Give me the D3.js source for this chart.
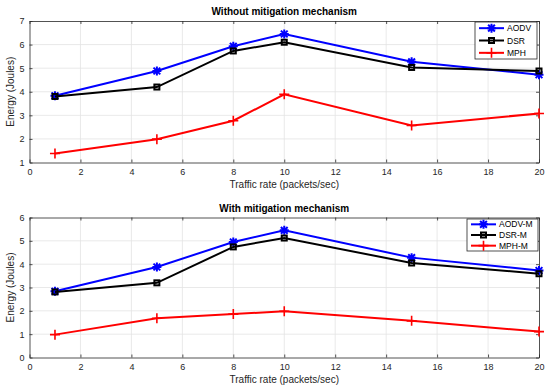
<!DOCTYPE html>
<html>
<head>
<meta charset="utf-8">
<script src="https://cdn.jsdelivr.net/npm/d3@7"></script>
<style>
  body { margin: 0; background: #fff; }
  svg { font-family: "Liberation Sans", Arial, sans-serif; }
</style>
</head>
<body>
<div id="chart"></div>
<script>
// traffic rate (packets/sec)
const rates = [1, 5, 8, 10, 15, 20]

// without mitigation
const aodv = [3.83, 4.88, 5.93, 6.45, 5.27, 4.72]
const dsr  = [3.80, 4.20, 5.73, 6.10, 5.03, 4.88]
const mph  = [1.38, 1.99, 2.77, 3.89, 2.57, 3.08]

// with mitigation
const aodvM = [2.84, 3.88, 4.95, 5.45, 4.28, 3.73]
const dsrM  = [2.81, 3.20, 4.74, 5.12, 4.05, 3.59]
const mphM  = [0.98, 1.68, 1.86, 1.98, 1.57, 1.11]

const xTicks = [0, 2, 4, 6, 8, 10, 12, 14, 16, 18, 20]

const W = 550, H = 391

const svg = d3.select("#chart").append("svg")
    .attr("width", W)
    .attr("height", H)

const panels = [
    {
        title: "Without mitigation mechanism",
        top: 21, bottom: 162.5,
        yDomain: [1, 7],
        series: [
            {name: "AODV", data: aodv, color: "#0000ff", marker: "star"},
            {name: "DSR", data: dsr, color: "#000000", marker: "square"},
            {name: "MPH", data: mph, color: "#ff0000", marker: "plus"}
        ],
        legend: {x: 475, y: 22, w: 62, h: 37}
    },
    {
        title: "With mitigation mechanism",
        top: 217.5, bottom: 357.5,
        yDomain: [0, 6],
        series: [
            {name: "AODV-M", data: aodvM, color: "#0000ff", marker: "star"},
            {name: "DSR-M", data: dsrM, color: "#000000", marker: "square"},
            {name: "MPH-M", data: mphM, color: "#ff0000", marker: "plus"}
        ],
        legend: {x: 467, y: 219, w: 71, h: 32}
    }
]

const left = 29.5, right = 539

function drawMarker(g, type, cx, cy, color) {
    if (type == "square") {
        g.append("rect")
            .attr("x", cx - 2.5).attr("y", cy - 2.5)
            .attr("width", 5).attr("height", 5)
            .attr("fill", "none").attr("stroke", color).attr("stroke-width", 2)
    } else if (type == "plus") {
        g.append("path")
            .attr("d", `M${cx-5},${cy}H${cx+5}M${cx},${cy-5}V${cy+5}`)
            .attr("stroke", color).attr("stroke-width", 1.6)
    } else {
        const r = 4.5
        let d = `M${cx-r},${cy}H${cx+r}M${cx},${cy-r}V${cy+r}`
        const q = r * 0.75
        d += `M${cx-q},${cy-q}L${cx+q},${cy+q}M${cx-q},${cy+q}L${cx+q},${cy-q}`
        g.append("path").attr("d", d)
            .attr("stroke", color).attr("stroke-width", 2)
    }
}

panels.forEach(p => {
    const x = d3.scaleLinear().domain([0, 20]).range([left, right])
    const y = d3.scaleLinear().domain(p.yDomain).range([p.bottom, p.top])
    const g = svg.append("g")

    // grid
    g.append("g").selectAll("line.gx")
        .data(xTicks.slice(1, -1))
        .enter().append("line")
        .attr("x1", d => x(d)).attr("x2", d => x(d))
        .attr("y1", p.top).attr("y2", p.bottom)
        .attr("stroke", "#e3e3e3").attr("stroke-width", 0.8)
    const yTicks = d3.range(p.yDomain[0], p.yDomain[1] + 1)
    g.append("g").selectAll("line.gy")
        .data(yTicks.slice(1, -1))
        .enter().append("line")
        .attr("x1", left).attr("x2", right)
        .attr("y1", d => y(d)).attr("y2", d => y(d))
        .attr("stroke", "#e3e3e3").attr("stroke-width", 0.8)

    // axes
    const xAxis = g.append("g")
        .attr("transform", `translate(0,${p.bottom})`)
        .call(d3.axisBottom(x).tickValues(xTicks).tickSizeInner(-3).tickSizeOuter(0).tickPadding(6))
    const xTop = g.append("g")
        .attr("transform", `translate(0,${p.top})`)
        .call(d3.axisTop(x).tickValues(xTicks).tickSizeInner(-3).tickSizeOuter(0).tickFormat(""))
    const yAxis = g.append("g")
        .attr("transform", `translate(${left},0)`)
        .call(d3.axisLeft(y).tickValues(yTicks).tickFormat(d3.format("d")).tickSizeInner(-3).tickSizeOuter(0).tickPadding(5))
    const yRight = g.append("g")
        .attr("transform", `translate(${right},0)`)
        .call(d3.axisRight(y).tickValues(yTicks).tickSizeInner(-3).tickSizeOuter(0).tickFormat(""))
    ;[xAxis, xTop, yAxis, yRight].forEach(a => {
        a.selectAll("path, line").attr("stroke", "#262626").attr("stroke-width", 0.8)
        a.selectAll("text").attr("fill", "#262626").style("font-size", "9px")
            .style("font-family", "Liberation Sans, Arial, sans-serif")
    })

    // title
    g.append("text")
        .attr("x", (left + right) / 2).attr("y", p.top - 6)
        .attr("text-anchor", "middle")
        .style("font-size", "10px").style("font-weight", "bold")
        .text(p.title)

    // axis labels
    g.append("text")
        .attr("x", (left + right) / 2).attr("y", p.bottom + 25)
        .attr("text-anchor", "middle").attr("fill", "#262626")
        .style("font-size", "10px")
        .text("Traffic rate (packets/sec)")
    g.append("text")
        .attr("transform", `translate(14,${(p.top + p.bottom) / 2}) rotate(-90)`)
        .attr("text-anchor", "middle").attr("fill", "#262626")
        .style("font-size", "10px")
        .text("Energy (Joules)")

    // lines
    const line = d3.line().x((d, i) => x(rates[i])).y(d => y(d))
    p.series.forEach(s => {
        g.append("path")
            .datum(s.data)
            .attr("d", line)
            .attr("fill", "none")
            .attr("stroke", s.color)
            .attr("stroke-width", 2)
        s.data.forEach((v, i) => drawMarker(g, s.marker, x(rates[i]), y(v), s.color))
    })

    // legend
    const L = p.legend
    const lg = g.append("g")
    lg.append("rect")
        .attr("x", L.x).attr("y", L.y).attr("width", L.w).attr("height", L.h)
        .attr("fill", "#fff").attr("stroke", "#262626").attr("stroke-width", 0.8)
    const rowH = L.h / 3
    p.series.forEach((s, i) => {
        const cy = L.y + rowH * (i + 0.5)
        lg.append("line")
            .attr("x1", L.x + 4).attr("x2", L.x + 29)
            .attr("y1", cy).attr("y2", cy)
            .attr("stroke", s.color).attr("stroke-width", 2)
        drawMarker(lg, s.marker, L.x + 16.5, cy, s.color)
        lg.append("text")
            .attr("x", L.x + 32).attr("y", cy + 3)
            .style("font-size", "8.5px")
            .text(s.name)
    })
})
</script>
</body>
</html>
